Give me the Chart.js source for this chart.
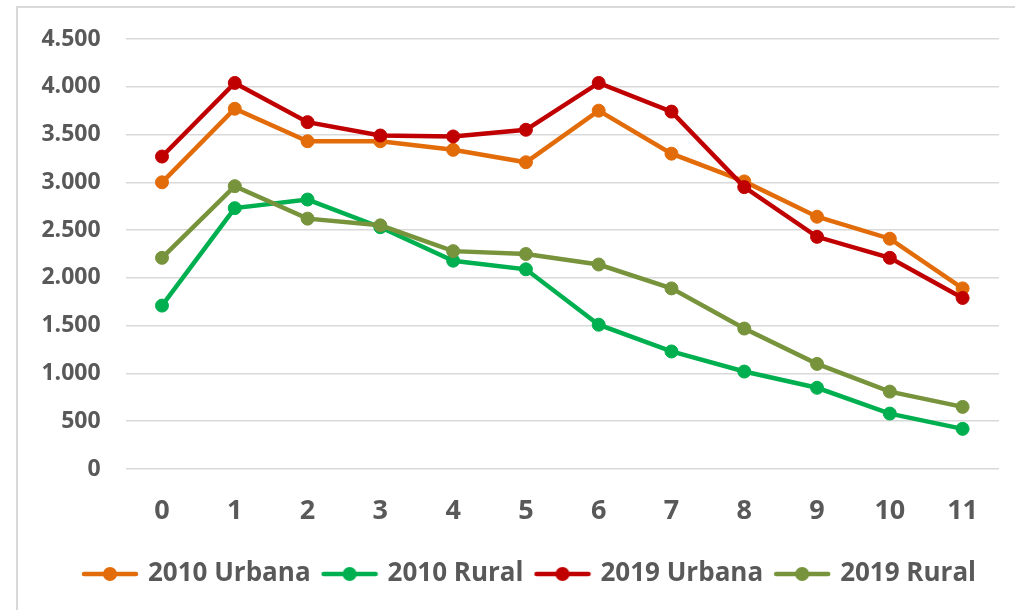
<!DOCTYPE html>
<html>
<head>
<meta charset="utf-8">
<script src="https://cdn.jsdelivr.net/npm/chart.js@4/dist/chart.umd.min.js"></script>
<style>
  html, body { margin: 0; padding: 0; background: #fff; }
  #wrap { width: 1015px; height: 610px; position: relative; }
</style>
</head>
<body>
<div id="wrap"><canvas id="c" width="1015" height="610"></canvas></div>
<script>
// Ages (years) on the horizontal axis
const ages = ['0', '1', '2', '3', '4', '5', '6', '7', '8', '9', '10', '11'];

// Series values
const urbana2010 = [3000, 3770, 3430, 3430, 3340, 3210, 3750, 3300, 3010, 2640, 2410, 1890];
const rural2010  = [1710, 2730, 2820, 2530, 2180, 2090, 1510, 1230, 1020, 850, 580, 420];
const urbana2019 = [3270, 4040, 3630, 3490, 3480, 3550, 4040, 3740, 2950, 2430, 2210, 1790];
const rural2019  = [2210, 2960, 2620, 2550, 2280, 2250, 2140, 1890, 1470, 1100, 810, 650];

// Vertical axis ticks
const yTicks = [0, 500, 1000, 1500, 2000, 2500, 3000, 3500, 4000, 4500];

const seriesNames = ['2010 Urbana', '2010 Rural', '2019 Urbana', '2019 Rural'];
const seriesColors = ['#E36C0A', '#00B050', '#C00000', '#77933C'];
const seriesValues = [urbana2010, rural2010, urbana2019, rural2019];
const drawOrder = [4, 3, 2, 1]; // lower order is painted on top

const FONT = '"Open Sans", "Liberation Sans", Arial, sans-serif';
const TEXT = '#595959';

// Line-with-dot swatch for the legend
function swatch(color) {
  const cv = document.createElement('canvas');
  cv.width = 58; cv.height = 16;
  const g = cv.getContext('2d');
  g.strokeStyle = color;
  g.lineWidth = 4.5;
  g.lineCap = 'round';
  g.beginPath(); g.moveTo(3, 8); g.lineTo(55, 8); g.stroke();
  g.fillStyle = color;
  g.beginPath(); g.arc(29, 8, 7, 0, Math.PI * 2); g.fill();
  return cv;
}

const fmt = v => String(v).replace(/\B(?=(\d{3})+(?!\d))/g, '.');

// Thin grey frame around the chart
const frame = {
  id: 'frame',
  beforeDraw(chart) {
    const ctx = chart.ctx;
    ctx.save();
    ctx.strokeStyle = '#d9d9d9';
    ctx.lineWidth = 2;
    ctx.strokeRect(17, 7, 1100, 700);
    ctx.restore();
  }
};

// Nudge the legend row a little to the right
const legendShift = {
  id: 'legendShift',
  afterLayout(chart) {
    if (chart.legend) {
      chart.legend.left += 11;
      chart.legend.right += 11;
    }
  }
};

new Chart(document.getElementById('c'), {
  type: 'line',
  data: {
    labels: ages,
    datasets: seriesValues.map((vals, i) => ({
      label: seriesNames[i],
      data: vals,
      borderColor: seriesColors[i],
      backgroundColor: seriesColors[i],
      pointBackgroundColor: seriesColors[i],
      pointBorderColor: seriesColors[i],
      borderWidth: 4.5,
      pointRadius: 6.5,
      pointBorderWidth: 1,
      pointHoverRadius: 6.5,
      tension: 0,
      order: drawOrder[i],
      fill: false
    }))
  },
  options: {
    responsive: false,
    animation: false,
    layout: { padding: { left: 40, right: 16, top: 39, bottom: 13 } },
    plugins: {
      tooltip: { enabled: false },
      title: { display: false },
      legend: {
        position: 'bottom',
        labels: {
          usePointStyle: true,
          pointStyleWidth: 50,
          padding: 14,
          color: TEXT,
          font: { family: FONT, size: 26, weight: 'bold' },
          generateLabels(chart) {
            return chart.data.datasets.map((ds, i) => ({
              text: ds.label,
              fillStyle: ds.borderColor,
              strokeStyle: ds.borderColor,
              lineWidth: 0,
              pointStyle: swatch(ds.borderColor),
              fontColor: TEXT,
              hidden: false,
              datasetIndex: i
            }));
          }
        }
      }
    },
    scales: {
      x: {
        offset: true,
        grid: { display: false },
        border: { display: false },
        ticks: {
          color: TEXT,
          padding: 18,
          font: { family: FONT, size: 27, weight: 'bold' }
        },
        afterFit(scale) { scale.height = 78; }
      },
      y: {
        min: 0,
        max: 4500,
        afterBuildTicks(scale) { scale.ticks = yTicks.map(v => ({ value: v })); },
        grid: { color: '#d9d9d9', lineWidth: 1.5, drawTicks: false },
        border: { display: false },
        ticks: {
          color: TEXT,
          padding: 25,
          font: { family: FONT, size: 23, weight: 'bold' },
          callback: v => fmt(v)
        },
        afterFit(scale) { scale.width = 85.6; }
      }
    }
  },
  plugins: [frame, legendShift]
});
</script>
</body>
</html>
